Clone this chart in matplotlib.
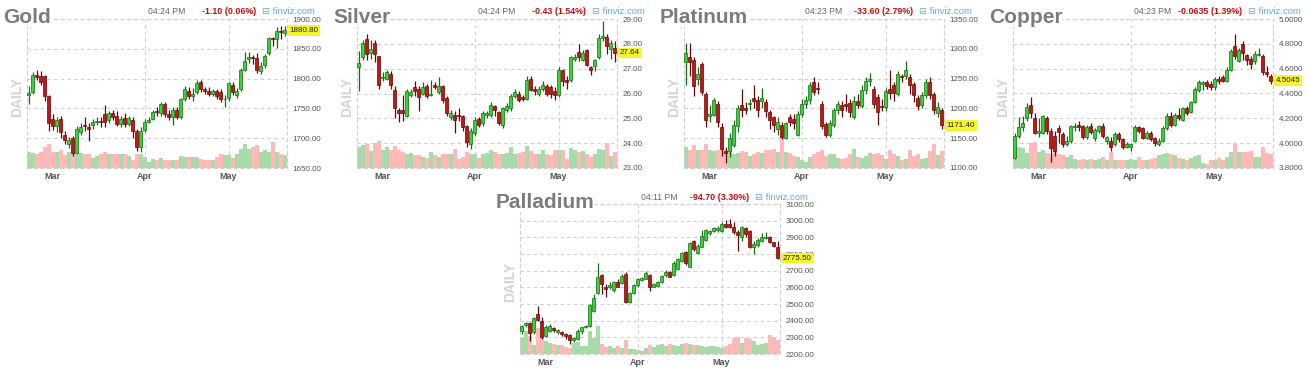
import matplotlib
matplotlib.use("Agg")
import matplotlib.pyplot as plt
import matplotlib.transforms as mtransforms

plt.rcParams['font.family'] = ['Liberation Sans', 'DejaVu Sans']

W, H = 1310, 371

months = ["Mar", "Apr", "May"]
month_idx = [6, 29, 50]

# ---- Gold ----
gold_o = [1772, 1778, 1806, 1805, 1805, 1770, 1732, 1720, 1733, 1706, 1691, 1700, 1676, 1710, 1722, 1719, 1722, 1728, 1729, 1740,
          1730, 1743, 1737, 1724, 1734, 1724, 1730, 1712, 1685, 1714, 1728, 1733, 1745, 1742, 1758, 1740, 1735, 1748, 1736, 1765,
          1780, 1771, 1778, 1794, 1782, 1780, 1775, 1779, 1778, 1765, 1768, 1790, 1772, 1783, 1815, 1833, 1836, 1834, 1812, 1822,
          1843, 1867, 1866, 1880, 1876]
gold_c = [1776, 1806, 1802, 1795, 1771, 1725, 1720, 1731, 1710, 1697, 1697, 1675, 1716, 1719, 1720, 1716, 1728, 1729, 1727, 1727,
          1742, 1736, 1724, 1733, 1724, 1734, 1712, 1685, 1712, 1728, 1731, 1744, 1744, 1758, 1740, 1735, 1748, 1735, 1765, 1782,
          1771, 1775, 1792, 1782, 1780, 1775, 1779, 1771, 1765, 1766, 1792, 1778, 1780, 1815, 1830, 1836, 1834, 1814, 1821, 1838,
          1868, 1866, 1880, 1878, 1880.8]
gold_h = [1788, 1811, 1814, 1812, 1806, 1772, 1740, 1735, 1738, 1712, 1702, 1703, 1720, 1725, 1735, 1725, 1732, 1735, 1735, 1755,
          1746, 1748, 1745, 1738, 1742, 1738, 1736, 1715, 1718, 1732, 1735, 1748, 1752, 1760, 1760, 1748, 1752, 1752, 1768, 1787,
          1786, 1784, 1797, 1797, 1786, 1786, 1782, 1782, 1782, 1772, 1795, 1795, 1785, 1818, 1845, 1845, 1840, 1843, 1828, 1842,
          1869, 1870, 1887, 1888, 1888]
gold_l = [1757, 1775, 1797, 1790, 1762, 1712, 1713, 1710, 1700, 1690, 1683, 1670, 1673, 1706, 1712, 1695, 1715, 1722, 1718, 1718,
          1725, 1730, 1720, 1718, 1718, 1720, 1700, 1678, 1677, 1710, 1725, 1730, 1738, 1738, 1735, 1730, 1722, 1732, 1733, 1762,
          1766, 1762, 1774, 1778, 1775, 1770, 1770, 1765, 1760, 1752, 1762, 1772, 1768, 1780, 1813, 1826, 1825, 1810, 1807, 1818,
          1840, 1855, 1851, 1866, 1872]
gold_v = [48, 45, 41, 48, 63, 73, 48, 48, 53, 38, 48, 53, 43, 45, 41, 43, 31, 35, 43, 48, 41, 41, 43, 41, 43, 35, 23, 43, 41, 33,
          18, 28, 23, 31, 25, 23, 25, 25, 35, 33, 33, 33, 33, 28, 25, 25, 25, 33, 43, 38, 38, 31, 43, 58, 73, 58, 63, 68, 48, 53,
          48, 78, 48, 43, 38]

# ---- Silver ----
silver_o = [27.08, 27.48, 28.2, 27.65, 28.05, 27.5, 26.63, 26.6, 26.8, 26.15, 25.35, 25.35, 25.1, 25.95, 26.27, 26.2, 26.0, 26.3,
            25.93, 26.34, 26.07, 26.3, 25.8, 25.06, 25.13, 25.15, 25.1, 24.7, 23.98, 24.4, 24.97, 24.8, 25.15, 25.15, 25.5, 25.25,
            24.75, 25.35, 25.4, 25.9, 26.0, 25.85, 25.78, 26.6, 26.2, 25.97, 26.2, 26.3, 26.25, 26.1, 25.95, 26.95, 26.55, 26.55,
            27.38, 27.68, 27.35, 27.75, 27.05, 27.1, 27.45, 28.25, 28.28, 27.78, 27.82]
silver_c = [27.22, 28.04, 27.6, 27.8, 27.6, 26.35, 26.67, 26.85, 26.35, 25.4, 25.2, 25.2, 26.12, 26.05, 26.1, 25.85, 26.25, 25.9,
            26.0, 26.27, 26.3, 25.75, 25.2, 25.22, 24.95, 25.08, 24.65, 24.05, 24.5, 24.92, 24.72, 25.2, 25.2, 25.53, 25.35, 24.8,
            25.4, 25.5, 25.9, 26.08, 25.75, 25.78, 26.55, 26.13, 26.12, 26.2, 26.35, 26.0, 26.0, 25.95, 26.95, 26.5, 26.48, 27.45,
            27.45, 27.45, 27.65, 27.15, 26.95, 27.35, 28.22, 28.3, 27.9, 28.05, 27.64]
silver_h = [27.7, 28.15, 28.4, 28.15, 28.15, 27.5, 26.85, 26.95, 26.9, 26.3, 25.4, 25.95, 26.2, 26.2, 26.5, 26.3, 26.45, 26.4,
            26.55, 26.45, 26.65, 26.35, 25.9, 25.35, 25.3, 25.4, 25.15, 24.75, 24.6, 25.05, 25.05, 25.3, 25.3, 25.65, 25.55, 25.3,
            25.45, 25.6, 26.0, 26.2, 26.1, 25.95, 26.7, 26.7, 26.3, 26.3, 26.5, 26.4, 26.35, 26.25, 27.05, 27.0, 26.7, 27.5, 27.6,
            28.0, 27.75, 27.8, 27.1, 27.4, 28.4, 28.9, 28.4, 28.15, 28.1]
silver_l = [26.1, 27.35, 27.35, 27.4, 27.28, 26.2, 26.5, 26.55, 26.2, 25.0, 24.85, 24.9, 25.05, 25.85, 25.9, 25.3, 25.95, 25.8,
            25.9, 26.2, 26.0, 25.6, 25.1, 24.95, 24.4, 24.9, 24.5, 23.85, 23.75, 24.3, 24.65, 24.7, 25.0, 25.05, 25.1, 24.75, 24.6,
            25.25, 25.3, 25.8, 25.65, 25.7, 25.75, 26.1, 25.95, 25.9, 26.1, 25.9, 25.8, 25.75, 25.85, 26.3, 26.2, 26.45, 27.3, 27.3,
            27.3, 27.1, 26.75, 26.9, 27.4, 28.1, 27.6, 27.4, 27.25]
silver_v = [63, 68, 71, 51, 75, 83, 55, 63, 55, 65, 55, 48, 41, 45, 38, 38, 33, 31, 48, 38, 33, 41, 41, 41, 58, 28, 33, 48, 41, 41,
            31, 43, 45, 53, 48, 41, 41, 45, 63, 41, 45, 48, 65, 51, 41, 43, 55, 41, 38, 55, 53, 53, 28, 61, 53, 48, 51, 41, 33, 41,
            58, 53, 75, 35, 48]

# ---- Platinum ----
plat_o = [1278, 1286, 1282, 1249, 1274, 1224, 1188, 1189, 1208, 1169, 1128, 1128, 1138, 1170, 1205, 1201, 1207, 1218, 1214, 1213,
          1211, 1194, 1186, 1166, 1172, 1150, 1186, 1183, 1156, 1190, 1207, 1214, 1245, 1235, 1207, 1173, 1155, 1172, 1197, 1205,
          1207, 1209, 1186, 1213, 1204, 1231, 1246, 1233, 1219, 1204, 1202, 1233, 1239, 1225, 1255, 1255, 1253, 1241, 1218, 1205,
          1222, 1245, 1225, 1192, 1197]
plat_c = [1293, 1278, 1237, 1258, 1228, 1181, 1190, 1214, 1177, 1132, 1125, 1151, 1172, 1200, 1197, 1197, 1208, 1213, 1197, 1217,
          1196, 1180, 1172, 1177, 1152, 1176, 1177, 1176, 1190, 1207, 1214, 1239, 1228, 1232, 1170, 1155, 1175, 1198, 1207, 1197,
          1204, 1194, 1213, 1205, 1231, 1246, 1249, 1207, 1194, 1202, 1229, 1226, 1226, 1258, 1252, 1265, 1239, 1222, 1204, 1222,
          1245, 1222, 1198, 1203, 1171.4]
plat_h = [1310, 1310, 1287, 1270, 1278, 1228, 1205, 1218, 1212, 1175, 1135, 1158, 1180, 1205, 1232, 1210, 1215, 1240, 1220, 1235,
          1215, 1198, 1188, 1185, 1178, 1178, 1190, 1190, 1195, 1215, 1220, 1245, 1252, 1245, 1212, 1178, 1180, 1200, 1212, 1212,
          1225, 1215, 1220, 1225, 1240, 1252, 1260, 1238, 1225, 1215, 1235, 1265, 1245, 1262, 1258, 1280, 1258, 1245, 1222, 1228,
          1250, 1252, 1228, 1210, 1200]
plat_l = [1240, 1255, 1220, 1240, 1222, 1168, 1178, 1188, 1168, 1120, 1108, 1118, 1135, 1160, 1185, 1190, 1198, 1200, 1185, 1200,
          1185, 1165, 1160, 1155, 1148, 1148, 1170, 1165, 1154, 1185, 1200, 1208, 1222, 1225, 1165, 1152, 1152, 1168, 1190, 1185,
          1195, 1185, 1182, 1200, 1200, 1225, 1238, 1200, 1172, 1195, 1195, 1215, 1212, 1220, 1245, 1250, 1225, 1210, 1198, 1200,
          1218, 1215, 1190, 1185, 1165]
plat_v = [63, 55, 68, 55, 55, 71, 55, 51, 53, 61, 55, 48, 43, 45, 51, 48, 35, 43, 48, 45, 53, 53, 58, 48, 93, 48, 45, 35, 33, 25,
          18, 33, 43, 48, 55, 35, 41, 41, 31, 28, 31, 43, 58, 33, 31, 35, 45, 41, 45, 38, 28, 53, 41, 35, 25, 28, 55, 35, 41, 28,
          31, 51, 71, 38, 51]

# ---- Copper ----
cu_o = [3.88, 4.06, 4.13, 4.2, 4.31, 4.2, 4.08, 4.08, 4.2, 4.1, 4.06, 4.12, 4.07, 3.99, 4.02, 4.13, 4.15, 4.14, 4.05, 4.14, 4.04,
        4.1, 4.14, 4.02, 4.02, 3.99, 4.07, 4.03, 3.97, 3.97, 4.02, 4.13, 4.12, 4.04, 4.08, 4.04, 3.99, 4.02, 4.12, 4.22, 4.15,
        4.23, 4.19, 4.28, 4.25, 4.33, 4.43, 4.48, 4.49, 4.48, 4.45, 4.52, 4.53, 4.5, 4.59, 4.78, 4.66, 4.8, 4.71, 4.68, 4.66,
        4.71, 4.7, 4.57, 4.54]
cu_c = [4.06, 4.13, 4.16, 4.29, 4.24, 4.08, 4.1, 4.22, 4.1, 3.96, 3.94, 4.09, 3.99, 4.02, 4.14, 4.14, 4.13, 4.05, 4.13, 4.09, 4.11,
        4.14, 4.06, 4.05, 3.97, 4.07, 4.03, 3.97, 3.99, 3.99, 4.13, 4.1, 4.04, 4.08, 4.03, 4.0, 4.02, 4.12, 4.22, 4.15, 4.23, 4.2,
        4.28, 4.24, 4.33, 4.44, 4.49, 4.49, 4.46, 4.45, 4.52, 4.5, 4.5, 4.59, 4.74, 4.7, 4.75, 4.73, 4.67, 4.64, 4.72, 4.72, 4.57,
        4.56, 4.5045]
cu_h = [4.08, 4.21, 4.22, 4.32, 4.37, 4.24, 4.2, 4.23, 4.22, 4.12, 4.1, 4.15, 4.09, 4.06, 4.15, 4.16, 4.18, 4.15, 4.15, 4.16, 4.12,
        4.15, 4.16, 4.06, 4.05, 4.09, 4.09, 4.04, 4.01, 4.0, 4.15, 4.14, 4.13, 4.1, 4.1, 4.05, 4.04, 4.14, 4.24, 4.25, 4.24, 4.28,
        4.29, 4.3, 4.34, 4.45, 4.51, 4.5, 4.51, 4.5, 4.53, 4.54, 4.55, 4.61, 4.76, 4.88, 4.77, 4.82, 4.72, 4.7, 4.74, 4.77, 4.72,
        4.62, 4.56]
cu_l = [3.87, 4.04, 4.1, 4.18, 4.2, 4.07, 4.05, 4.07, 4.07, 3.85, 3.9, 4.0, 3.97, 3.98, 4.0, 4.1, 4.1, 4.03, 4.03, 4.07, 4.02, 4.08,
        4.04, 3.99, 3.94, 3.98, 4.01, 3.95, 3.96, 3.94, 4.01, 4.08, 4.03, 4.03, 4.02, 3.98, 3.98, 4.01, 4.11, 4.13, 4.14, 4.19,
        4.18, 4.23, 4.24, 4.32, 4.41, 4.43, 4.44, 4.43, 4.43, 4.48, 4.49, 4.49, 4.58, 4.68, 4.65, 4.67, 4.63, 4.6, 4.64, 4.7,
        4.55, 4.53, 4.48]
cu_v = [68, 63, 61, 45, 75, 78, 48, 53, 45, 41, 48, 43, 38, 33, 38, 28, 25, 28, 25, 28, 25, 28, 33, 25, 48, 25, 23, 23, 25, 28,
        25, 33, 25, 25, 28, 31, 38, 43, 45, 41, 38, 31, 28, 25, 31, 35, 38, 15, 13, 25, 25, 31, 25, 33, 48, 71, 48, 48, 48, 51,
        33, 33, 63, 45, 41]

# ---- Palladium ----
pd_o = [2336, 2376, 2386, 2332, 2440, 2400, 2306, 2336, 2356, 2330, 2330, 2320, 2312, 2284, 2292, 2336, 2362, 2366, 2460, 2566,
        2676, 2605, 2605, 2585, 2630, 2625, 2680, 2512, 2565, 2612, 2645, 2652, 2676, 2605, 2610, 2630, 2672, 2690, 2675, 2710,
        2760, 2815, 2725, 2880, 2805, 2845, 2885, 2925, 2940, 2945, 2940, 2978, 2980, 2965, 2935, 2905, 2955, 2940, 2845, 2855,
        2880, 2895, 2905, 2870, 2845]
pd_c = [2366, 2386, 2326, 2416, 2406, 2300, 2360, 2366, 2344, 2342, 2320, 2306, 2286, 2296, 2340, 2360, 2370, 2492, 2536, 2660,
        2620, 2590, 2615, 2630, 2605, 2670, 2515, 2565, 2615, 2650, 2658, 2685, 2605, 2618, 2635, 2670, 2695, 2665, 2745, 2770,
        2805, 2745, 2865, 2830, 2850, 2910, 2945, 2938, 2955, 2958, 2978, 2965, 2960, 2935, 2915, 2960, 2920, 2840, 2860, 2885,
        2905, 2905, 2875, 2850, 2775.5]
pd_h = [2375, 2395, 2392, 2420, 2490, 2420, 2375, 2380, 2362, 2350, 2340, 2325, 2320, 2300, 2350, 2365, 2375, 2500, 2560, 2745,
        2680, 2620, 2630, 2640, 2650, 2680, 2690, 2575, 2620, 2655, 2665, 2700, 2680, 2625, 2640, 2675, 2705, 2700, 2760, 2775,
        2815, 2820, 2875, 2885, 2860, 2945, 2950, 2945, 2965, 2970, 2990, 3005, 3010, 2990, 2945, 2970, 2960, 2945, 2880, 2895,
        2925, 2935, 2910, 2875, 2880]
pd_l = [2320, 2360, 2280, 2320, 2400, 2290, 2300, 2330, 2330, 2322, 2310, 2290, 2260, 2275, 2285, 2320, 2355, 2360, 2450, 2560,
        2560, 2545, 2590, 2575, 2600, 2620, 2505, 2505, 2560, 2605, 2640, 2648, 2580, 2600, 2605, 2625, 2665, 2660, 2670, 2705,
        2755, 2735, 2720, 2820, 2800, 2840, 2880, 2915, 2930, 2935, 2935, 2955, 2955, 2920, 2820, 2880, 2905, 2835, 2800, 2845,
        2875, 2890, 2865, 2840, 2770]
pd_v = [48, 68, 53, 28, 78, 53, 38, 33, 30, 26, 26, 20, 18, 33, 36, 23, 23, 68, 48, 83, 30, 20, 23, 18, 23, 18, 43, 16, 15, 13,
        10, 18, 28, 20, 28, 30, 23, 30, 28, 23, 30, 33, 30, 26, 28, 23, 20, 23, 25, 20, 18, 23, 30, 48, 50, 33, 48, 46, 38, 26,
        30, 32, 56, 50, 43]

GREEN, GREEN_EDGE = "#3ad23a", "#156b15"
RED, RED_EDGE = "#c81414", "#5e0a0a"
VOL_G, VOL_R = "#a8dba8", "#ffb9b9"
GRID = "#cfcfcf"


def panel(fig, box, name, o, h, l, c, v, yticks, fmt, clock, change, last_txt):
    left, top, right, bottom = box
    rect = [left / W, 1 - bottom / H, (right - left) / W, (bottom - top) / H]
    x = list(range(len(o)))
    up = [ci >= oi for oi, ci in zip(o, c)]

    # volume underneath
    axv = fig.add_axes(rect, zorder=1)
    axv.bar(x, v, width=1.0, color=[VOL_G if u else VOL_R for u in up], linewidth=0)
    axv.set_xlim(-0.4, 64.6)
    axv.set_ylim(0, 450)
    axv.axis("off")

    ax = fig.add_axes(rect, zorder=2)
    ax.patch.set_alpha(0)
    ax.set_xlim(-0.4, 64.6)
    ax.set_ylim(yticks[0], yticks[-1])
    span = yticks[-1] - yticks[0]

    ax.vlines(x, l, h, colors=[GREEN_EDGE if u else RED_EDGE for u in up], linewidth=0.9, zorder=3)
    body = [max(abs(ci - oi), span * 0.006) for oi, ci in zip(o, c)]
    ax.bar(x, body, bottom=[min(oi, ci) for oi, ci in zip(o, c)], width=0.78,
           color=[GREEN if u else RED for u in up],
           edgecolor=[GREEN_EDGE if u else RED_EDGE for u in up], linewidth=0.5, zorder=4)

    dash = (0, (3, 3))
    ax.set_yticks(yticks)
    ax.set_yticklabels([fmt % t for t in yticks])
    ax.yaxis.tick_right()
    ax.tick_params(axis="y", length=0, pad=4, labelsize=5.8, labelcolor="#555555")
    ax.grid(axis="y", linestyle=dash, color=GRID, linewidth=0.8)
    for mi in month_idx[1:]:
        ax.axvline(mi, linestyle=dash, color=GRID, linewidth=0.8, zorder=0.5)
    ax.set_axisbelow(True)
    ax.set_xticks(month_idx)
    ax.set_xticklabels(months)
    ax.tick_params(axis="x", length=0, pad=3, labelsize=6.5, labelcolor="#555555")
    for t in ax.get_xticklabels():
        t.set_fontweight("bold")
    for s in ax.spines.values():
        s.set_linestyle(dash)
        s.set_color(GRID)
        s.set_linewidth(0.8)

    # last price tag
    trans = mtransforms.blended_transform_factory(ax.transAxes, ax.transData)
    ax.text(1.0 + 2.5 / (right - left), c[-1], last_txt, transform=trans, ha="left", va="center",
            fontsize=5.8, color="#222222", zorder=6,
            bbox=dict(facecolor="#f5f52c", edgecolor="none", pad=1.2))

    # header texts
    pw, ph = right - left, bottom - top
    yh = 1 + 7 / ph
    ax.text(121 / pw, yh, clock, transform=ax.transAxes, ha="left", va="center",
            fontsize=6.2, color="#666666")
    ax.text(229 / pw, yh, change, transform=ax.transAxes, ha="right", va="center",
            fontsize=6.4, color="#c01010", fontweight="bold")
    ax.text(235 / pw, yh, "\u229f finviz.com", transform=ax.transAxes, ha="left", va="center",
            fontsize=6.8, color="#6aa8d8")

    fig.text((left - 24) / W, 1 - (top + 4) / H, name, ha="left", va="baseline",
             fontsize=15, fontweight="bold", color="#7c7c7c", zorder=5,
             bbox=dict(facecolor="white", edgecolor="none", pad=0))
    fig.text((left - 10) / W, 1 - (top + ph * 0.52) / H, "DAILY", rotation=90,
             ha="center", va="center", fontsize=10, fontweight="bold", color="#d4d4d4")


def main():
    fig = plt.figure(figsize=(W / 100, H / 100), dpi=100)
    fig.patch.set_facecolor("white")

    panel(fig, (27, 19, 287, 168), "Gold", gold_o, gold_h, gold_l, gold_c, gold_v,
          [1650, 1700, 1750, 1800, 1850, 1900], "%.2f", "04:24 PM", "-1.10 (0.06%)", "1880.80")
    panel(fig, (357, 19, 617, 168), "Silver", silver_o, silver_h, silver_l, silver_c, silver_v,
          [23, 24, 25, 26, 27, 28, 29], "%.2f", "04:24 PM", "-0.43 (1.54%)", "27.64")
    panel(fig, (684, 19, 944, 168), "Platinum", plat_o, plat_h, plat_l, plat_c, plat_v,
          [1100, 1150, 1200, 1250, 1300, 1350], "%.2f", "04:23 PM", "-33.60 (2.79%)", "1171.40")
    panel(fig, (1013, 19, 1273, 168), "Copper", cu_o, cu_h, cu_l, cu_c, cu_v,
          [3.8, 4.0, 4.2, 4.4, 4.6, 4.8, 5.0], "%.4f", "04:23 PM", "-0.0635 (1.39%)", "4.5045")
    panel(fig, (520, 204, 780, 354), "Palladium", pd_o, pd_h, pd_l, pd_c, pd_v,
          [2200, 2300, 2400, 2500, 2600, 2700, 2800, 2900, 3000, 3100], "%.2f", "04:11 PM", "-94.70 (3.30%)", "2775.50")

    fig.savefig("out.png", dpi=100, facecolor="white")
    plt.close(fig)


if __name__ == "__main__":
    main()
